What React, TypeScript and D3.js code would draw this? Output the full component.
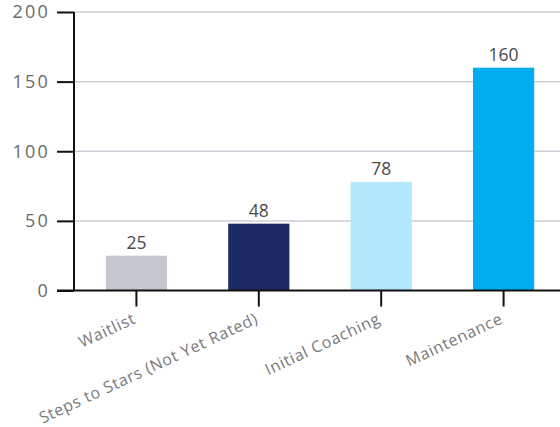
import { useEffect, useRef } from "react"
import * as d3 from "d3"

const categories = ["Waitlist", "Steps to Stars (Not Yet Rated)", "Initial Coaching", "Maintenance"]
const values = [25, 48, 78, 160]
const colors = ["#c4c6d0", "#1e2a63", "#b3e6fa", "#00aeef"]
const yTicks = [0, 50, 100, 150, 200]

export default function App() {
  const svgRef = useRef<SVGSVGElement>(null)

  useEffect(() => {
    if (!svgRef.current) return
    const width = 560
    const height = 427
    const font = "'Open Sans', sans-serif"

    d3.select(svgRef.current).selectAll("*").remove()
    const svg = d3.select(svgRef.current).attr("width", width).attr("height", height)

    const x = d3.scaleBand<string>().domain(categories).range([74, 566]).paddingInner(0.5).paddingOuter(0.26)
    const y = d3.scaleLinear().domain([0, 200]).range([290.5, 12])

    // gridlines
    svg
      .append("g")
      .selectAll("line")
      .data(yTicks.filter((t) => t > 0))
      .enter()
      .append("line")
      .attr("x1", 74)
      .attr("x2", width)
      .attr("y1", (d) => y(d))
      .attr("y2", (d) => y(d))
      .attr("stroke", "#cdced8")
      .attr("stroke-width", 1.5)

    // bars
    svg
      .append("g")
      .selectAll("rect")
      .data(values)
      .enter()
      .append("rect")
      .attr("x", (_, i) => x(categories[i])!)
      .attr("width", x.bandwidth())
      .attr("y", (d) => y(d))
      .attr("height", (d) => y(0) - y(d))
      .attr("fill", (_, i) => colors[i])

    // value labels
    svg
      .append("g")
      .selectAll("text")
      .data(values)
      .enter()
      .append("text")
      .attr("x", (_, i) => x(categories[i])! + x.bandwidth() / 2)
      .attr("y", (d) => y(d) - 7)
      .attr("text-anchor", "middle")
      .attr("font-family", font)
      .attr("font-size", 17.5)
      .attr("fill", "#4a4a4a")
      .text((d) => d)

    // y axis
    const yAxis = svg
      .append("g")
      .attr("transform", "translate(74,0)")
      .call(d3.axisLeft(y).tickValues(yTicks).tickSize(17).tickPadding(7))
    yAxis.select(".domain").attr("stroke", "#111").attr("stroke-width", 2).attr("d", `M0,${y(200)}V${y(0)}`)
    yAxis.selectAll(".tick line").attr("stroke", "#111").attr("stroke-width", 2)
    yAxis
      .selectAll(".tick text")
      .attr("font-family", font)
      .attr("font-size", 18)
      .attr("letter-spacing", 2.2)
      .attr("fill", "#6a6a6a")

    // x axis line
    svg
      .append("line")
      .attr("x1", 57)
      .attr("x2", width)
      .attr("y1", y(0))
      .attr("y2", y(0))
      .attr("stroke", "#111")
      .attr("stroke-width", 2)

    // x ticks + labels
    const xt = svg
      .append("g")
      .selectAll("g")
      .data(categories)
      .enter()
      .append("g")
      .attr("transform", (d) => `translate(${x(d)! + x.bandwidth() / 2},${y(0)})`)
    xt.append("line").attr("y2", 16).attr("stroke", "#111").attr("stroke-width", 2)
    xt.append("text")
      .attr("transform", "translate(-2,27) rotate(-25)")
      .attr("text-anchor", "end")
      .attr("dy", "0.35em")
      .attr("font-family", font)
      .attr("font-size", 16)
      .attr("letter-spacing", 0.7)
      .attr("fill", "#7a7a7a")
      .text((d) => d)
  }, [])

  return (
    <div style={{ position: "absolute", left: 0, top: 0, background: "#fff" }}>
      <svg ref={svgRef}></svg>
    </div>
  )
}
